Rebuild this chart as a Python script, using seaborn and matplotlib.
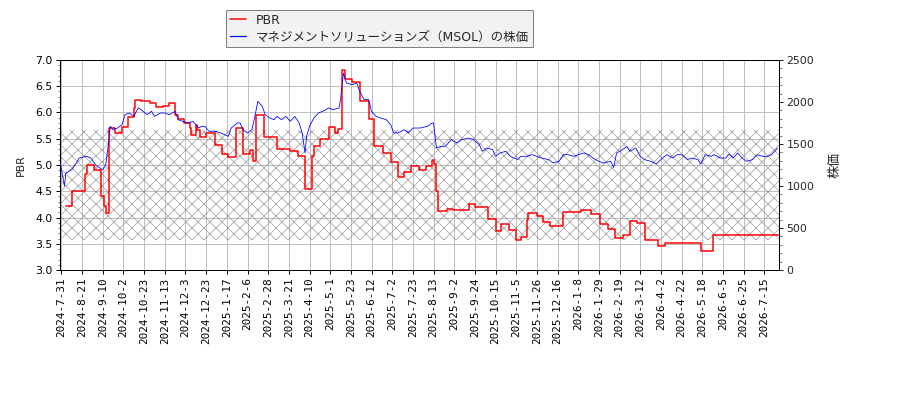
import matplotlib
matplotlib.use("Agg")
import matplotlib.pyplot as plt
import seaborn as sns
import pandas as pd
from matplotlib.ticker import MultipleLocator, FixedLocator, FixedFormatter
from matplotlib.lines import Line2D

# ---------------- data ----------------
date_labels = [
    "2024-7-31", "2024-8-21", "2024-9-10", "2024-10-2", "2024-10-23", "2024-11-13",
    "2024-12-3", "2024-12-23", "2025-1-17", "2025-2-6", "2025-2-28", "2025-3-21",
    "2025-4-10", "2025-5-1", "2025-5-23", "2025-6-12", "2025-7-2", "2025-7-23",
    "2025-8-13", "2025-9-2", "2025-9-24", "2025-10-15", "2025-11-5", "2025-11-26",
    "2025-12-16", "2026-1-8", "2026-1-29", "2026-2-19", "2026-3-12", "2026-4-2",
    "2026-4-22", "2026-5-18", "2026-6-5", "2026-6-25", "2026-7-15",
]
label_step = 14  # trading days between labelled ticks
n_days = 487

stock_idx = [0, 3, 4, 8, 11, 13, 18, 21, 24, 27, 29, 31, 33, 34, 36, 39, 42, 44, 47, 50,
             53, 55, 59, 62, 64, 68, 71, 74, 78, 80, 83, 87, 90, 94, 96, 98, 101, 105, 109, 114,
             116, 120, 122, 124, 127, 130, 132, 134, 137, 139, 142, 145, 147, 150, 153, 156, 159, 162, 164, 166,
             167, 169, 172, 175, 178, 182, 185, 189, 190, 192, 194, 198, 201, 203, 206, 209, 211, 214, 217, 221,
             224, 226, 229, 233, 236, 239, 244, 249, 252, 253, 255, 258, 261, 265, 269, 272, 277, 280, 284, 286,
             289, 293, 295, 298, 302, 305, 310, 312, 316, 320, 323, 326, 331, 334, 338, 341, 344, 348, 351, 355,
             358, 361, 365, 368, 373, 375, 377, 381, 384, 386, 390, 393, 396, 400, 404, 408, 411, 415, 418, 421,
             425, 428, 432, 434, 437, 441, 443, 447, 451, 453, 456, 459, 462, 465, 469, 472, 476, 479, 482, 486]
stock_val = [1297, 1000, 1155, 1194, 1274, 1333, 1353, 1333, 1254, 1214, 1194, 1254, 1532, 1711, 1671, 1690, 1730, 1849, 1869, 1829,
             1929, 1908, 1849, 1889, 1829, 1869, 1869, 1849, 1889, 1790, 1770, 1750, 1770, 1690, 1711, 1711, 1651, 1651, 1631, 1591,
             1690, 1750, 1750, 1670, 1631, 1671, 1829, 2008, 1948, 1849, 1810, 1790, 1829, 1790, 1829, 1770, 1829, 1750, 1631, 1393,
             1591, 1711, 1810, 1869, 1889, 1929, 1909, 1929, 2028, 2345, 2226, 2206, 2226, 2127, 2028, 2028, 1889, 1829, 1810, 1790,
             1730, 1631, 1631, 1671, 1631, 1690, 1690, 1711, 1750, 1750, 1452, 1472, 1472, 1552, 1512, 1552, 1571, 1552, 1492, 1413,
             1452, 1433, 1353, 1393, 1413, 1353, 1314, 1353, 1353, 1373, 1353, 1333, 1314, 1274, 1294, 1373, 1373, 1353, 1373, 1393,
             1373, 1333, 1294, 1274, 1294, 1222, 1393, 1433, 1472, 1413, 1452, 1353, 1314, 1294, 1262, 1333, 1373, 1333, 1373, 1373,
             1314, 1333, 1314, 1262, 1373, 1353, 1373, 1333, 1333, 1381, 1333, 1393, 1333, 1294, 1314, 1373, 1353, 1353, 1373, 1452]

pbr_idx = [4, 8, 17, 18, 23, 28, 30, 31, 33, 37, 42, 46, 50, 51, 55, 61, 65, 70, 74, 78,
           80, 84, 88, 89, 92, 93, 95, 99, 105, 110, 114, 119, 124, 129, 131, 133, 138, 147, 156, 161,
           166, 171, 172, 176, 182, 186, 188, 191, 193, 198, 203, 209, 213, 219, 224, 229, 233, 238, 243, 248,
           252, 253, 255, 256, 262, 266, 277, 281, 290, 295, 299, 304, 309, 312, 316, 317, 323, 327, 332, 341,
           353, 360, 366, 371, 376, 381, 386, 391, 396, 405, 410, 434, 442, 487]
pbr_val = [4.21, 4.51, 4.82, 5.00, 4.91, 4.40, 4.21, 4.09, 5.70, 5.61, 5.72, 5.91, 6.09, 6.24, 6.21, 6.18, 6.10, 6.12, 6.18, 5.96,
           5.88, 5.80, 5.70, 5.58, 5.77, 5.67, 5.53, 5.61, 5.39, 5.21, 5.15, 5.70, 5.21, 5.29, 5.07, 5.95, 5.53, 5.30, 5.26, 5.18,
           4.54, 5.17, 5.36, 5.50, 5.72, 5.61, 5.69, 6.80, 6.63, 6.58, 6.22, 5.88, 5.36, 5.22, 5.05, 4.77, 4.86, 4.98, 4.91, 4.98,
           5.10, 5.01, 4.50, 4.12, 4.17, 4.14, 4.26, 4.20, 3.97, 3.74, 3.88, 3.77, 3.58, 3.62, 3.96, 4.09, 4.02, 3.91, 3.83, 4.10,
           4.14, 4.07, 3.88, 3.78, 3.61, 3.67, 3.93, 3.90, 3.57, 3.45, 3.51, 3.36, 3.66, 3.66]

band_low, band_high = 3.58, 5.67

pbr_label = "PBR"
stock_label = "マネジメントソリューションズ（MSOL）の株価"

# ---------------- style ----------------
sns.set_style("ticks")
plt.rcParams["font.family"] = ["DejaVu Sans", "Noto Sans CJK JP"]
plt.rcParams["hatch.linewidth"] = 0.6
plt.rcParams["hatch.color"] = "#909090"

fig = plt.figure(figsize=(900 / 72, 400 / 72), dpi=72)
ax = fig.add_axes([60 / 900, 130 / 400, 719 / 900, 210 / 400])
ax2 = ax.twinx()

pbr_df = pd.DataFrame({"x": pbr_idx, "y": pbr_val})
stock_df = pd.DataFrame({"x": stock_idx, "y": stock_val})

ax.axhspan(band_low, band_high, facecolor="none", edgecolor="#909090", hatch="xx", lw=0, zorder=1)
sns.lineplot(data=pbr_df, x="x", y="y", ax=ax, color="#ff0000", lw=1.5,
             drawstyle="steps-post", legend=False, zorder=3)
sns.lineplot(data=stock_df, x="x", y="y", ax=ax2, color="#0000ff", lw=0.8,
             legend=False, zorder=3)

ax.set_xlim(0, n_days)
ax.set_ylim(3.0, 7.0)
ax2.set_ylim(0, 2500)

tick_pos = [1 + label_step * i for i in range(len(date_labels))]
ax.xaxis.set_major_locator(FixedLocator(tick_pos))
ax.xaxis.set_major_formatter(FixedFormatter(date_labels))
for t in ax.get_xticklabels():
    t.set_rotation(90)
    t.set_fontfamily(["DejaVu Sans Mono"])
    t.set_fontsize(11)

ax.yaxis.set_major_locator(MultipleLocator(0.5))
ax.yaxis.set_minor_locator(MultipleLocator(0.1))
ax.yaxis.set_major_formatter(plt.FormatStrFormatter("%.1f"))
ax2.yaxis.set_major_locator(MultipleLocator(500))
ax2.yaxis.set_minor_locator(MultipleLocator(100))

ax.tick_params(axis="both", labelsize=11, direction="out", length=4, width=1, colors="black")
ax.tick_params(axis="y", which="minor", length=2.5)
ax2.tick_params(axis="y", labelsize=11, direction="out", length=4, width=1)
ax2.tick_params(axis="y", which="minor", length=2.5)

ax.grid(True, which="major", color="#c0c0c0", lw=1)
ax.set_axisbelow(True)
ax2.grid(False)

for a in (ax, ax2):
    for s in a.spines.values():
        s.set_visible(True)
        s.set_color("black")
        s.set_linewidth(1)

ax.set_xlabel("")
ax.set_ylabel("PBR", fontsize=11, labelpad=9)
ax2.set_ylabel("株価", fontsize=13, labelpad=14)

handles = [Line2D([], [], color="#ff0000", lw=1.5), Line2D([], [], color="#0000ff", lw=1.2)]
leg = fig.legend(handles, [pbr_label, stock_label], loc="upper left",
                 bbox_to_anchor=(226 / 900, 1 - 10 / 400), fontsize=12.5,
                 frameon=True, fancybox=False, framealpha=1, facecolor="#f2f2f2",
                 edgecolor="#808080", handlelength=1.3, borderaxespad=0,
                 labelspacing=0.3, borderpad=0.3)
leg.get_frame().set_linewidth(1)

fig.savefig("out.png", dpi=72)
